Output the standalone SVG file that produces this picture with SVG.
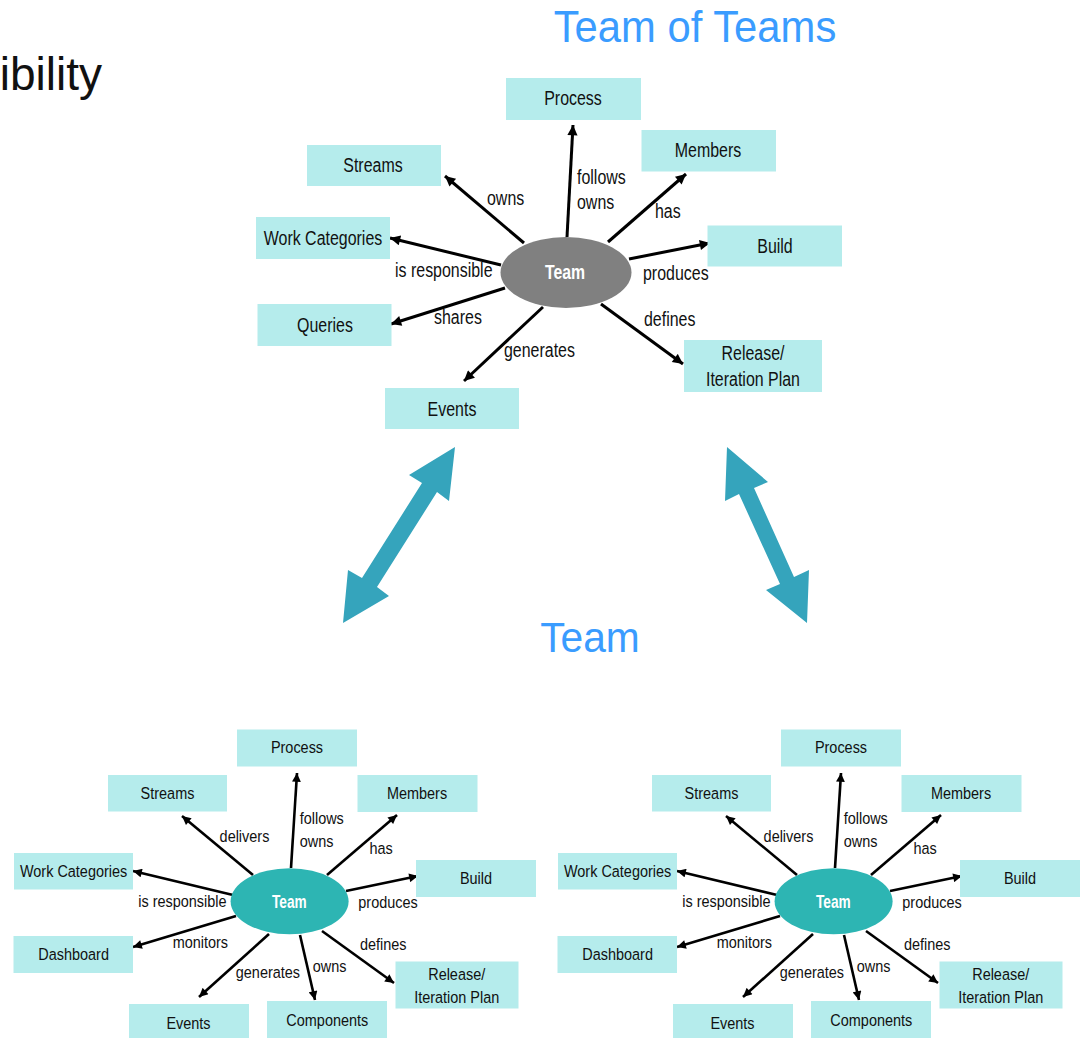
<svg xmlns="http://www.w3.org/2000/svg" width="1081" height="1038" viewBox="0 0 1081 1038">
<style>
text{font-family:"Liberation Sans",Arial,sans-serif;fill:#111}
.box{fill:#B5ECEC}
.tt{font-size:21px}
.bt{font-size:17px}
.mid{text-anchor:middle}
.title{fill:#3A9CFF}
.hub{font-weight:bold;fill:#fff;text-anchor:middle}
.ln{stroke:#000;fill:none}
.lt{stroke-width:3}
.lb{stroke-width:2.6}
.big{fill:#35A4BC}
</style>
<defs>
<marker id="ah" viewBox="0 0 10 10" refX="10" refY="5" markerWidth="4" markerHeight="3.4" orient="auto" markerUnits="strokeWidth"><path d="M0,0 L10,5 L0,10 z" fill="#000"/></marker>
</defs>
<rect width="1081" height="1038" fill="#fff"/>
<text transform="translate(102,90) scale(0.98,1)" style="font-size:47px;text-anchor:end">ibility</text>
<text class="title" transform="translate(695,42) scale(0.95,1)" style="font-size:44px;text-anchor:middle">Team of Teams</text>
<text class="title" transform="translate(590,652) scale(0.97,1)" style="font-size:42px;text-anchor:middle">Team</text>

<g id="big-arrows">
<polygon class="big" points="455,447 409,475 422,483 362,578 348,570 343,623 389,596 377,587 437,492 449,501"/>
<polygon class="big" points="727,447 768,482 754,488 794,577 809,570 807,623 766,590 780,584 739,494 725,501"/>
</g>

<!-- Top cluster -->
<g id="connectors-top" class="ln lt" marker-end="url(#ah)">
<line x1="567" y1="237" x2="573" y2="125"/>
<line x1="524" y1="243" x2="445" y2="176"/>
<line x1="608" y1="242" x2="686" y2="174"/>
<line x1="501" y1="265" x2="390" y2="238"/>
<line x1="629" y1="259" x2="710" y2="243"/>
<line x1="505" y1="288" x2="391" y2="324"/>
<line x1="543" y1="307" x2="464" y2="381"/>
<line x1="601" y1="304" x2="683" y2="364"/>
</g>
<g id="labels-top" class="tt">
<text transform="translate(487,205) scale(0.76,1)">owns</text>
<text transform="translate(577,184) scale(0.76,1)">follows</text>
<text transform="translate(577,209) scale(0.76,1)">owns</text>
<text transform="translate(655,218) scale(0.76,1)">has</text>
<text transform="translate(395,277) scale(0.76,1)">is responsible</text>
<text transform="translate(643,280) scale(0.76,1)">produces</text>
<text transform="translate(434,324) scale(0.76,1)">shares</text>
<text transform="translate(644,326) scale(0.76,1)">defines</text>
<text transform="translate(504,357) scale(0.76,1)">generates</text>
</g>
<g id="t-team"><ellipse cx="566" cy="272.5" rx="65.5" ry="35.5" fill="#808080"/><text class="hub" transform="translate(565,279) scale(0.79,1)" style="font-size:20px">Team</text></g>
<g id="t-process"><rect class="box" x="506" y="78" width="135" height="42"/><text class="tt mid" transform="translate(573,105) scale(0.76,1)">Process</text></g>
<g id="t-streams"><rect class="box" x="307" y="145" width="134" height="41"/><text class="tt mid" transform="translate(373,172) scale(0.76,1)">Streams</text></g>
<g id="t-members"><rect class="box" x="641.5" y="130" width="134.5" height="41.5"/><text class="tt mid" transform="translate(708,157) scale(0.76,1)">Members</text></g>
<g id="t-workcat"><rect class="box" x="256" y="217" width="134" height="42"/><text class="tt mid" transform="translate(323,245) scale(0.76,1)">Work Categories</text></g>
<g id="t-build"><rect class="box" x="707.5" y="225.5" width="134.5" height="41"/><text class="tt mid" transform="translate(775,253) scale(0.76,1)">Build</text></g>
<g id="t-queries"><rect class="box" x="257.5" y="304" width="134" height="42"/><text class="tt mid" transform="translate(325,332) scale(0.76,1)">Queries</text></g>
<g id="t-release"><rect class="box" x="684" y="340" width="138" height="52"/><text class="tt mid" transform="translate(753,360) scale(0.76,1)">Release/</text><text class="tt mid" transform="translate(753,386) scale(0.76,1)">Iteration Plan</text></g>
<g id="t-events"><rect class="box" x="385" y="388" width="134" height="41"/><text class="tt mid" transform="translate(452,416) scale(0.76,1)">Events</text></g>

<!-- Left bottom cluster -->
<g id="connectors-left" class="ln lb" marker-end="url(#ah)">
<line x1="291" y1="868" x2="297" y2="773"/>
<line x1="253" y1="875" x2="182" y2="816"/>
<line x1="327" y1="875" x2="397" y2="815"/>
<line x1="233" y1="895" x2="133" y2="871"/>
<line x1="346" y1="891" x2="418" y2="876"/>
<line x1="236" y1="916" x2="133" y2="947"/>
<line x1="269" y1="934" x2="199" y2="997"/>
<line x1="300" y1="935" x2="315" y2="1000"/>
<line x1="322" y1="931" x2="394" y2="983"/>
</g>
<g id="labels-left" class="bt">
<text transform="translate(219.6,842.3) scale(0.85,1)">delivers</text>
<text transform="translate(299.7,824.3) scale(0.85,1)">follows</text>
<text transform="translate(299.7,846.7) scale(0.85,1)">owns</text>
<text transform="translate(369.4,854.3) scale(0.85,1)">has</text>
<text transform="translate(138.2,907.3) scale(0.85,1)">is responsible</text>
<text transform="translate(358.3,908) scale(0.85,1)">produces</text>
<text transform="translate(172.7,948.3) scale(0.85,1)">monitors</text>
<text transform="translate(360,950) scale(0.85,1)">defines</text>
<text transform="translate(235.8,977.7) scale(0.85,1)">generates</text>
<text transform="translate(312.8,971.7) scale(0.85,1)">owns</text>
</g>
<g id="l-team"><ellipse cx="289.6" cy="901.3" rx="59" ry="33" fill="#2DB5B3"/><text class="hub" transform="translate(289.3,908.3) scale(0.76,1)" style="font-size:18px">Team</text></g>
<g id="l-process"><rect class="box" x="237" y="729.5" width="120" height="37"/><text class="bt mid" transform="translate(297,753.3) scale(0.85,1)">Process</text></g>
<g id="l-streams"><rect class="box" x="108" y="775" width="119" height="36.5"/><text class="bt mid" transform="translate(167.5,799.3) scale(0.85,1)">Streams</text></g>
<g id="l-members"><rect class="box" x="357.5" y="775" width="120" height="37"/><text class="bt mid" transform="translate(417,799.3) scale(0.85,1)">Members</text></g>
<g id="l-workcat"><rect class="box" x="14" y="853" width="119" height="36.5"/><text class="bt mid" transform="translate(73.6,876.7) scale(0.85,1)">Work Categories</text></g>
<g id="l-build"><rect class="box" x="416" y="860" width="120" height="37"/><text class="bt mid" transform="translate(476,884.3) scale(0.85,1)">Build</text></g>
<g id="l-dashboard"><rect class="box" x="13.5" y="936" width="119.5" height="37"/><text class="bt mid" transform="translate(73.6,960) scale(0.85,1)">Dashboard</text></g>
<g id="l-release"><rect class="box" x="395.5" y="961.5" width="123" height="47"/><text class="bt mid" transform="translate(456.7,980) scale(0.85,1)">Release/</text><text class="bt mid" transform="translate(456.7,1003.3) scale(0.85,1)">Iteration Plan</text></g>
<g id="l-events"><rect class="box" x="129" y="1004" width="120" height="40"/><text class="bt mid" transform="translate(188.5,1029.3) scale(0.85,1)">Events</text></g>
<g id="l-components"><rect class="box" x="267" y="1001" width="120" height="43"/><text class="bt mid" transform="translate(327.3,1026) scale(0.85,1)">Components</text></g>

<!-- Right bottom cluster -->
<g id="connectors-right" class="ln lb" marker-end="url(#ah)">
<line x1="835" y1="868" x2="841" y2="773"/>
<line x1="797" y1="875" x2="726" y2="816"/>
<line x1="871" y1="875" x2="941" y2="815"/>
<line x1="777" y1="895" x2="677" y2="871"/>
<line x1="890" y1="891" x2="962" y2="876"/>
<line x1="780" y1="916" x2="677" y2="947"/>
<line x1="813" y1="934" x2="743" y2="997"/>
<line x1="844" y1="935" x2="859" y2="1000"/>
<line x1="866" y1="931" x2="938" y2="983"/>
</g>
<g id="labels-right" class="bt">
<text transform="translate(763.6,842.3) scale(0.85,1)">delivers</text>
<text transform="translate(843.7,824.3) scale(0.85,1)">follows</text>
<text transform="translate(843.7,846.7) scale(0.85,1)">owns</text>
<text transform="translate(913.4,854.3) scale(0.85,1)">has</text>
<text transform="translate(682.2,907.3) scale(0.85,1)">is responsible</text>
<text transform="translate(902.3,908) scale(0.85,1)">produces</text>
<text transform="translate(716.7,948.3) scale(0.85,1)">monitors</text>
<text transform="translate(904,950) scale(0.85,1)">defines</text>
<text transform="translate(779.8,977.7) scale(0.85,1)">generates</text>
<text transform="translate(856.8,971.7) scale(0.85,1)">owns</text>
</g>
<g id="r-team"><ellipse cx="833.6" cy="901.3" rx="59" ry="33" fill="#2DB5B3"/><text class="hub" transform="translate(833.3,908.3) scale(0.76,1)" style="font-size:18px">Team</text></g>
<g id="r-process"><rect class="box" x="781" y="729.5" width="120" height="37"/><text class="bt mid" transform="translate(841,753.3) scale(0.85,1)">Process</text></g>
<g id="r-streams"><rect class="box" x="652" y="775" width="119" height="36.5"/><text class="bt mid" transform="translate(711.5,799.3) scale(0.85,1)">Streams</text></g>
<g id="r-members"><rect class="box" x="901.5" y="775" width="120" height="37"/><text class="bt mid" transform="translate(961,799.3) scale(0.85,1)">Members</text></g>
<g id="r-workcat"><rect class="box" x="558" y="853" width="119" height="36.5"/><text class="bt mid" transform="translate(617.6,876.7) scale(0.85,1)">Work Categories</text></g>
<g id="r-build"><rect class="box" x="960" y="860" width="120" height="37"/><text class="bt mid" transform="translate(1020,884.3) scale(0.85,1)">Build</text></g>
<g id="r-dashboard"><rect class="box" x="557.5" y="936" width="119.5" height="37"/><text class="bt mid" transform="translate(617.6,960) scale(0.85,1)">Dashboard</text></g>
<g id="r-release"><rect class="box" x="939.5" y="961.5" width="123" height="47"/><text class="bt mid" transform="translate(1000.7,980) scale(0.85,1)">Release/</text><text class="bt mid" transform="translate(1000.7,1003.3) scale(0.85,1)">Iteration Plan</text></g>
<g id="r-events"><rect class="box" x="673" y="1004" width="120" height="40"/><text class="bt mid" transform="translate(732.5,1029.3) scale(0.85,1)">Events</text></g>
<g id="r-components"><rect class="box" x="811" y="1001" width="120" height="43"/><text class="bt mid" transform="translate(871.3,1026) scale(0.85,1)">Components</text></g>
</svg>
